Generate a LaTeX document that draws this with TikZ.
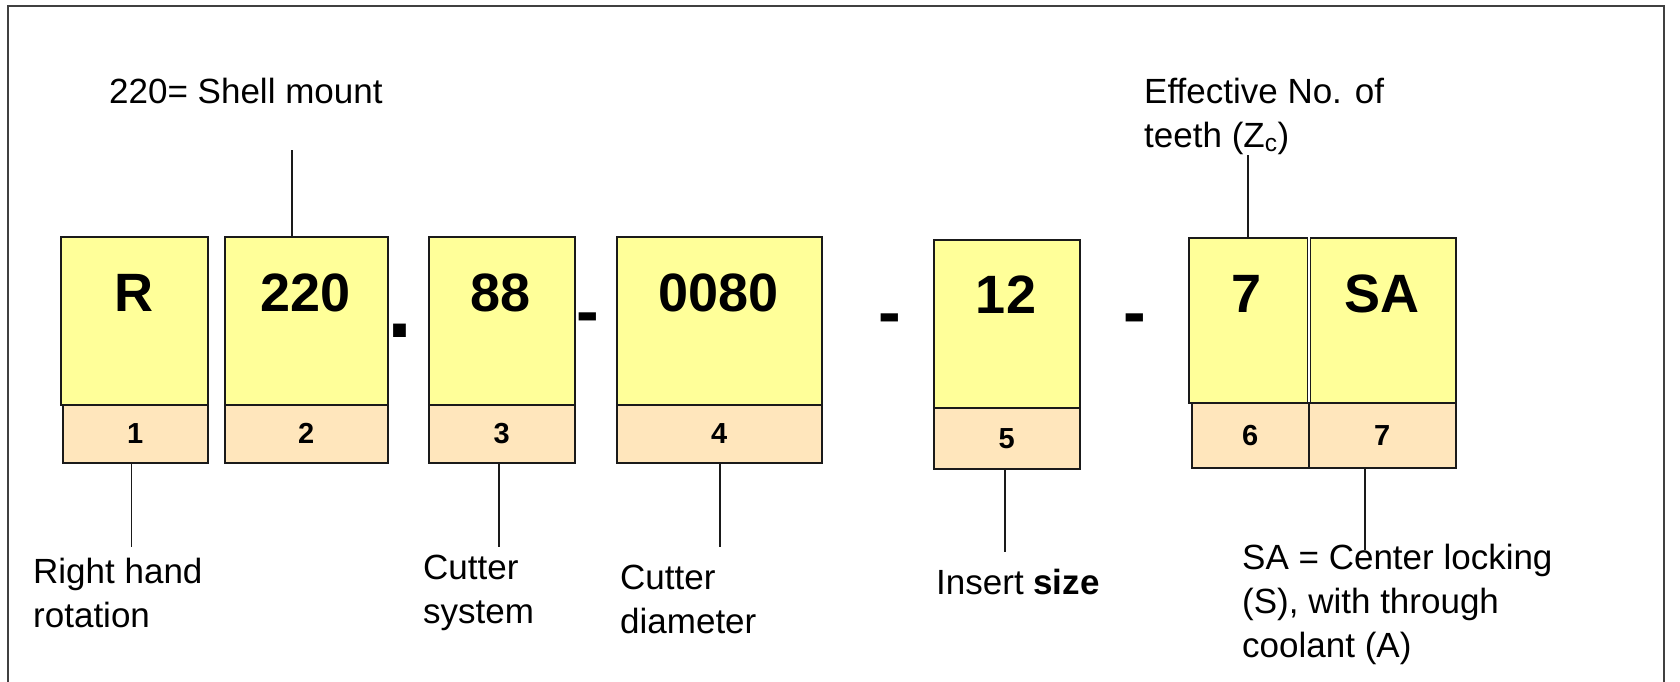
\documentclass[tikz,border=0pt]{standalone}
\usepackage{fontspec}
\setmainfont{Liberation Sans}
\usepackage{xcolor}
\definecolor{codeyellow}{HTML}{FFFF99}
\definecolor{codetan}{HTML}{FFE6BC}
\definecolor{boxline}{HTML}{1A1A1A}
\tikzset{
  codebox/.style 2 args={draw=boxline, fill=codeyellow, line width=1.5, minimum width=#1, minimum height=#2, anchor=north west, inner sep=0},
  posbox/.style 2 args={draw=boxline, fill=codetan, line width=1.5, minimum width=#1, minimum height=#2, anchor=north west, inner sep=0, font=\fontsize{29}{30}\selectfont\bfseries},
  codetxt/.style={font=\fontsize{54}{60}\selectfont\bfseries, inner sep=0},
  sepmark/.style={font=\fontsize{68}{70}\selectfont\bfseries, inner sep=0, anchor=base},
  note/.style={font=\fontsize{35}{44}\selectfont, align=left, inner sep=0, anchor=base west},
  lead/.style={line width=1.5, draw=boxline}
}
\begin{document}
\begin{tikzpicture}[x=1pt,y=-1pt]
\useasboundingbox (0,0) rectangle (1680,682);
\draw[line width=2, black!75] (7.5,682) -- (7.5,6.5) -- (1664,6.5) -- (1664,682);
% code fields
\node[codebox={147}{168}] (bR) at (60,236) {};
\node[posbox={145}{58}] (n1) at (62,404) {1};
\node[codebox={163}{168}] (b220) at (224,236) {};
\node[posbox={163}{58}] (n2) at (224,404) {2};
\node[codebox={146}{168}] (b88) at (428,236) {};
\node[posbox={146}{58}] (n3) at (428,404) {3};
\node[codebox={205}{168}] (b0080) at (616,236) {};
\node[posbox={205}{58}] (n4) at (616,404) {4};
\node[codebox={146}{168}] (b12) at (933,239) {};
\node[posbox={146}{61}] (n5) at (933,407) {5};
\node[codebox={118.5}{165}] (b7) at (1188,237) {};
\node[posbox={117}{65}] (n6) at (1191,402) {6};
\node[codebox={145.5}{165}] (bSA) at (1309.5,237) {};
\node[posbox={147}{65}] (n7) at (1308,402) {7};
\node[codetxt] (tR) at (133.5,292.5) {R};
\node[codetxt] (t220) at (305.5,292.5) {220};
\node[codetxt] (t88) at (501,292.5) {88};
\node[codetxt] (t0080) at (718.5,292.5) {0080};
\node[codetxt] (t12) at (1006,295) {12};
\node[codetxt] (t7) at (1246,294) {7};
\node[codetxt] (tSA) at (1382,294) {SA};
% separators
\node[sepmark, font=\fontsize{90}{90}\selectfont\bfseries] (dot1) at (399.5,337) {.};
\node[sepmark] (dash1) at (587.5,334) {-};
\node[sepmark] (dash2) at (889.5,335.5) {-};
\node[sepmark] (dash3) at (1135,335.5) {-};
% notes (base = last line)
\node[note] (l220) at (109,104) {220= Shell mount};
\node[note] (lZ) at (1144,147) {Effective No. of\\teeth (Z\textsubscript{c})};
\node[note] (l1) at (33,627) {Right hand\\rotation};
\node[note] (l3) at (423,623) {Cutter\\system};
\node[note] (l4) at (620,633) {Cutter\\diameter};
\node[note] (l5) at (936,594) {Insert \textbf{size}};
\node[note] (l7) at (1242,657) {SA = Center locking\\(S), with through\\coolant (A)};
% leaders
\coordinate (e2) at (292,150);
\coordinate (e6) at (1248,155);
\coordinate (e1) at (131.6,547);
\coordinate (e3) at (499,547);
\coordinate (e4) at (720,547);
\coordinate (e5) at (1005,552);
\coordinate (e7) at (1365,550);
\draw[lead] (e2 |- b220.north) -- (e2);
\draw[lead] (e6 |- b7.north) -- (e6);
\draw[lead] (e1 |- n1.south) -- (e1);
\draw[lead] (e3 |- n3.south) -- (e3);
\draw[lead] (e4 |- n4.south) -- (e4);
\draw[lead] (e5 |- n5.south) -- (e5);
\draw[lead] (e7 |- n7.south) -- (e7);
\end{tikzpicture}
\end{document}
